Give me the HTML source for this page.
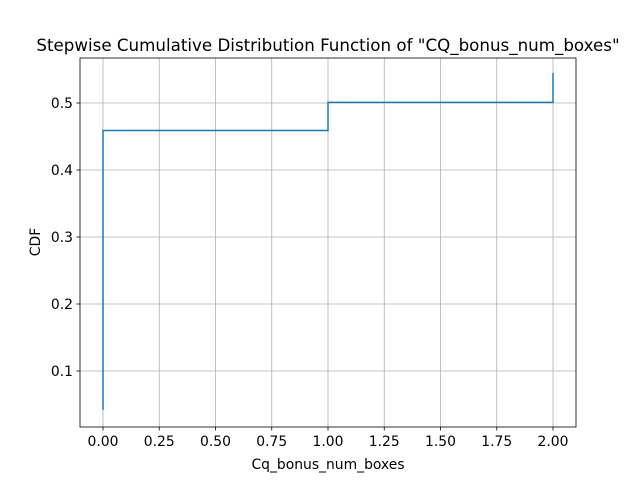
<!DOCTYPE html>
<html><head><meta charset="utf-8"><style>
body{margin:0;background:#fff}
text{font-family:"DejaVu Sans","Liberation Sans",sans-serif;fill:#000}
</style></head><body>
<svg id="chart" width="640" height="480" xmlns="http://www.w3.org/2000/svg">
<rect width="640" height="480" fill="#fff"/>
<text x="328" y="51" font-size="16.7" text-anchor="middle">Stepwise Cumulative Distribution Function of "CQ_bonus_num_boxes"</text>
<g id="grid"></g>
<g id="ticks"></g>
<path id="line" fill="none" stroke="#1f77b4" stroke-width="1.5"/>
<rect x="80" y="58" width="496" height="369" fill="none" stroke="#000" stroke-width="0.8"/>
<text x="328" y="469" font-size="13.9" text-anchor="middle">Cq_bonus_num_boxes</text>
<text transform="translate(40,242) rotate(-90)" font-size="13.9" text-anchor="middle">CDF</text>
</svg>
<script>
const xs=[0,0,1,1,2,2];
const ys=[0.042,0.459,0.459,0.501,0.501,0.545];
const xTicks=[0,0.25,0.5,0.75,1,1.25,1.5,1.75,2];
const xTickLabels=["0.00","0.25","0.50","0.75","1.00","1.25","1.50","1.75","2.00"];
const yTicks=[0.1,0.2,0.3,0.4,0.5];
const yTickLabels=["0.1","0.2","0.3","0.4","0.5"];
const X=v=>103+v*225;
const Y=v=>371-(v-0.1)*670;
const NS="http://www.w3.org/2000/svg";
const grid=document.getElementById('grid'),ticks=document.getElementById('ticks');
function mk(tag,attrs,parent){const e=document.createElementNS(NS,tag);for(const k in attrs)e.setAttribute(k,attrs[k]);parent.appendChild(e);return e;}
xTicks.forEach((t,i)=>{
  const g=mk('line',{x1:X(t),x2:X(t),y1:58,y2:427,stroke:'#b0b0b0','stroke-width':0.8},grid);
  
  
  const tk=mk('line',{x1:X(t),x2:X(t),y1:427,y2:430.5,stroke:'#000','stroke-width':0.8},ticks);
  
  
  const tx=mk('text',{x:X(t),y:446,'font-size':13.9,'text-anchor':'middle'},ticks);
  tx.textContent=xTickLabels[i];
  
  
});
yTicks.forEach((t,i)=>{
  const g=mk('line',{x1:80,x2:576,y1:Y(t),y2:Y(t),stroke:'#b0b0b0','stroke-width':0.8},grid);
  
  
  const tk=mk('line',{x1:76.5,x2:80,y1:Y(t),y2:Y(t),stroke:'#000','stroke-width':0.8},ticks);
  
  
  const tx=mk('text',{x:73,y:Y(t)+5,'font-size':13.9,'text-anchor':'end'},ticks);
  tx.textContent=yTickLabels[i];
  
  
});
let d='';
xs.forEach((x,i)=>{d+=(i?'L':'M')+X(x)+' '+Y(ys[i]);});
document.getElementById('line').setAttribute('d',d);
</script>
</body></html>
